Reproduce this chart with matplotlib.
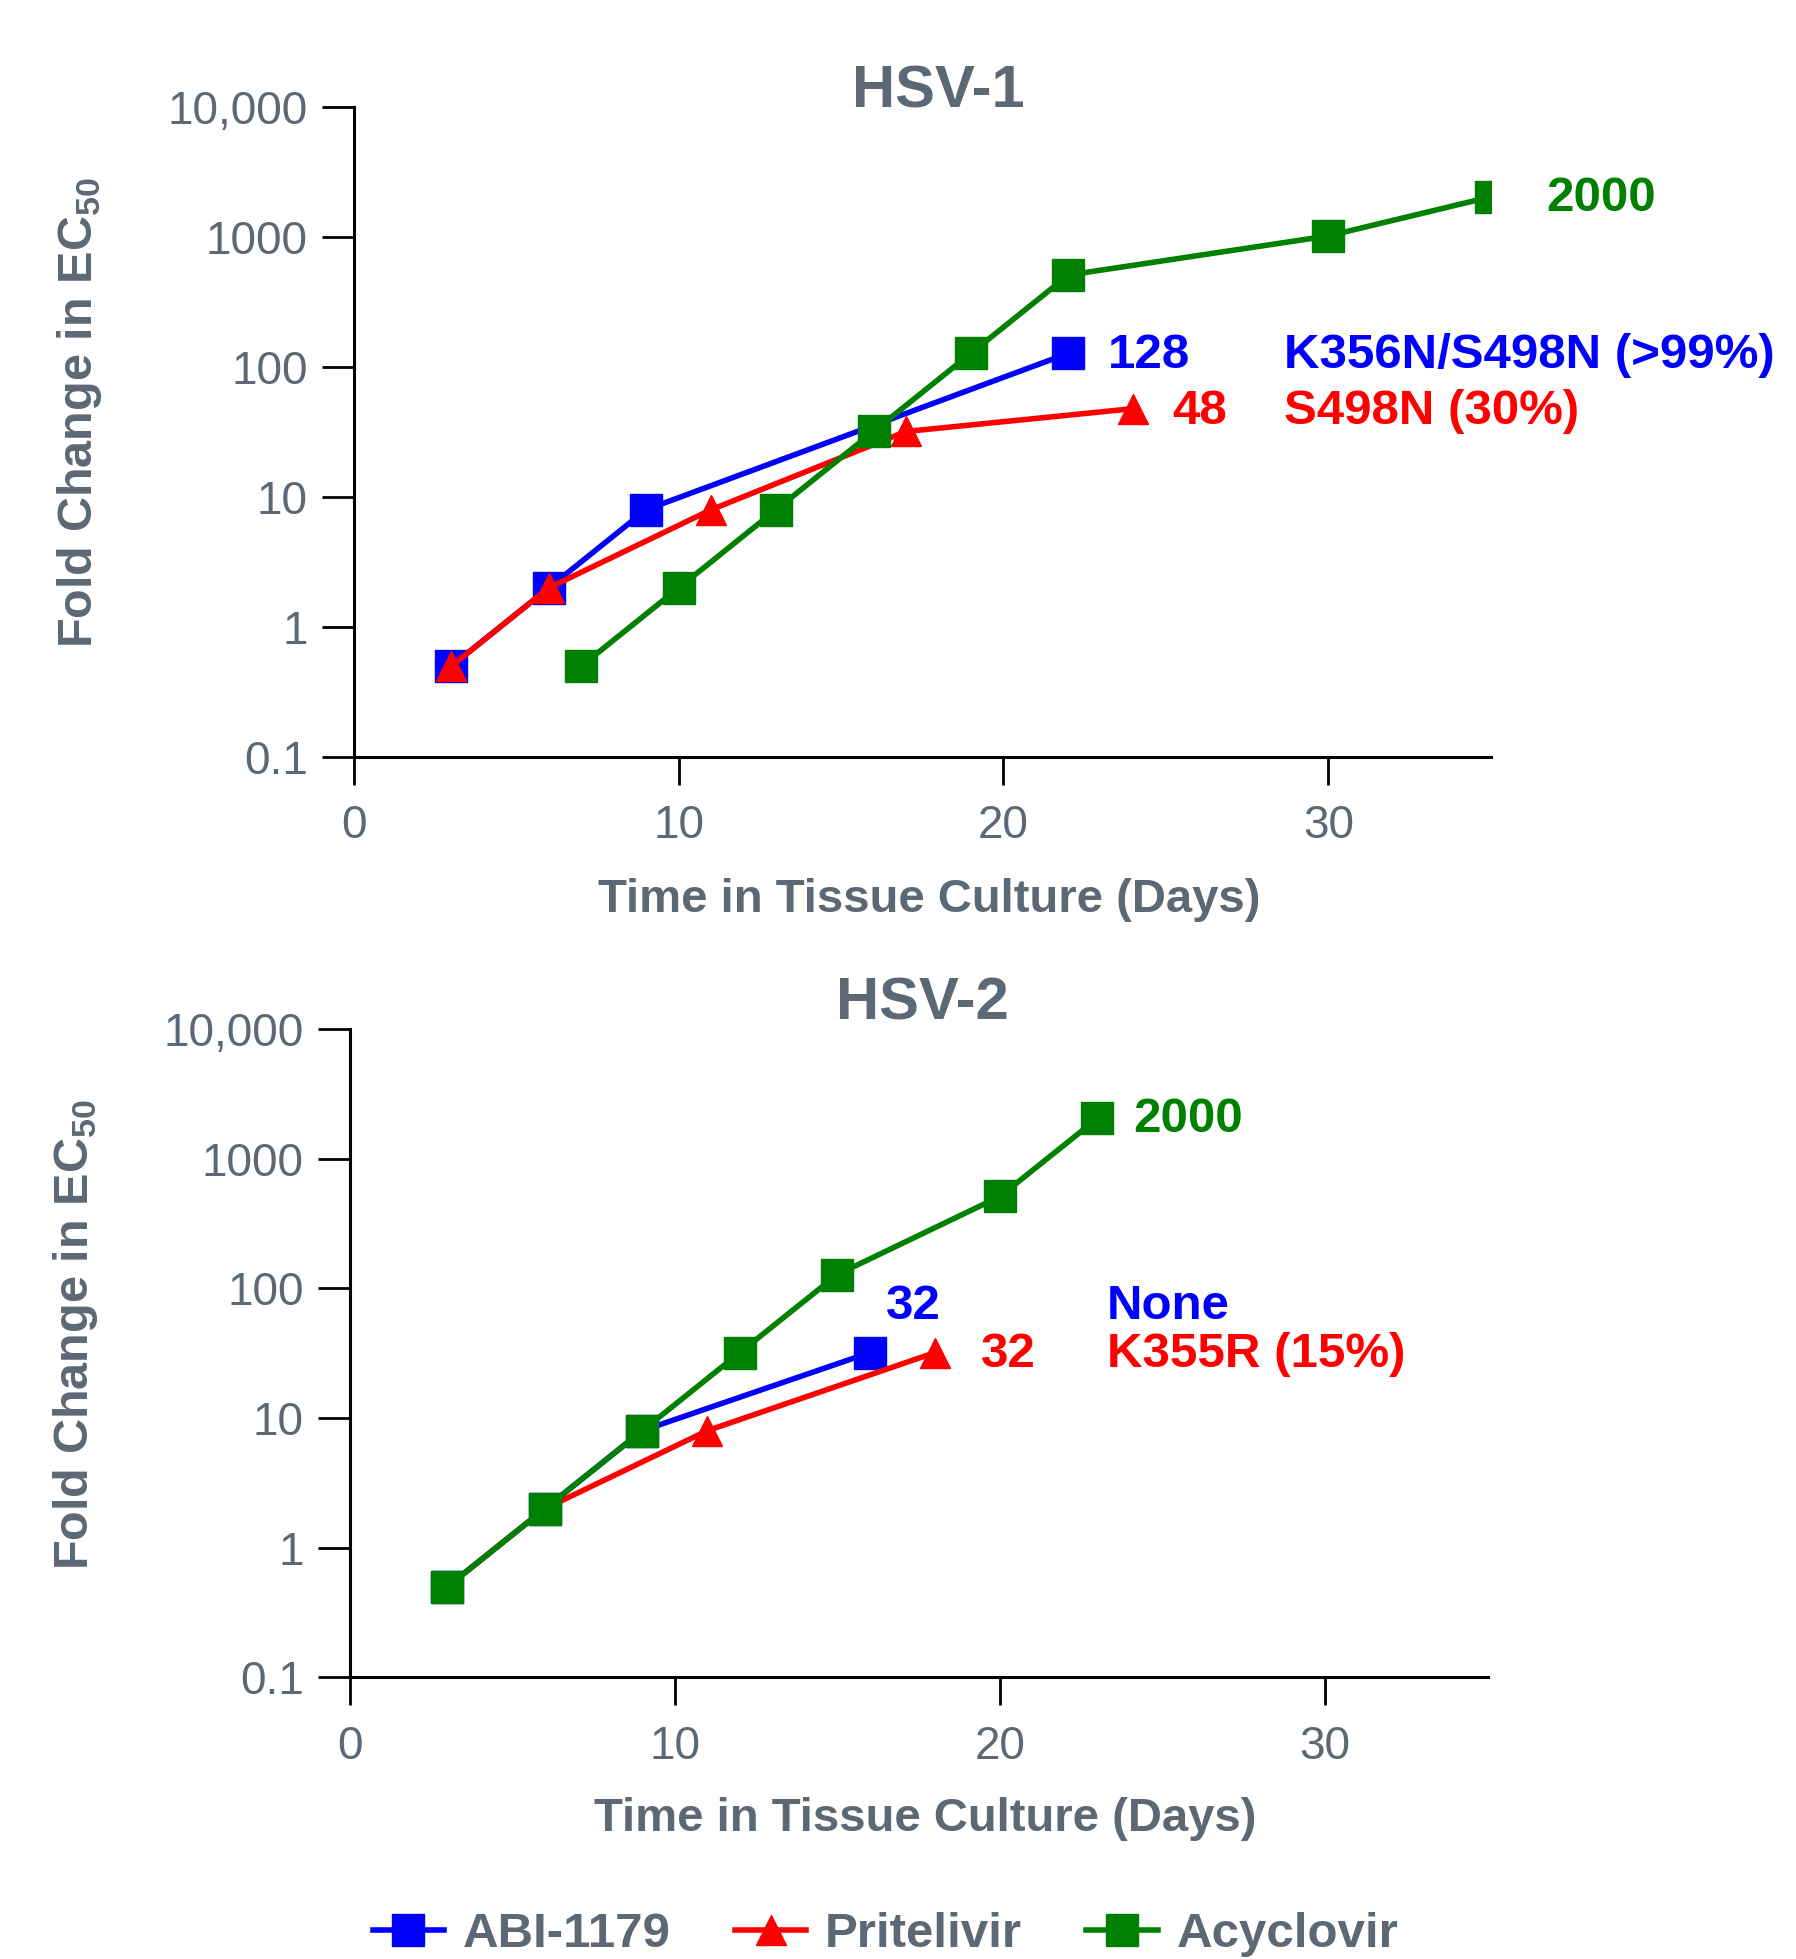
import matplotlib
matplotlib.use("Agg")
import matplotlib.pyplot as plt
from matplotlib.ticker import FixedLocator, NullLocator

# data
hsv1_abi_days = [3, 6, 9, 22]
hsv1_abi_fold = [0.5, 2, 8, 128]
hsv1_pri_days = [3, 6, 11, 17, 24]
hsv1_pri_fold = [0.5, 2, 8, 32, 48]
hsv1_acv_days = [7, 10, 13, 16, 19, 22, 30, 35]
hsv1_acv_fold = [0.5, 2, 8, 32, 128, 512, 1024, 2048]

hsv2_abi_days = [3, 6, 9, 16]
hsv2_abi_fold = [0.5, 2, 8, 32]
hsv2_pri_days = [3, 6, 11, 18]
hsv2_pri_fold = [0.5, 2, 8, 32]
hsv2_acv_days = [3, 6, 9, 12, 15, 20, 23]
hsv2_acv_fold = [0.5, 2, 8, 32, 128, 512, 2048]

y_ticks = [0.1, 1, 10, 100, 1000, 10000]
y_labels = ["0.1", "1", "10", "100", "1000", "10,000"]
x_ticks = [0, 10, 20, 30]

# (x, y, text, colour) annotations
hsv1_notes = [(36.7, 2000, "2000", "green"),
              (23.2, 122, "128", "blue"),
              (28.65, 122, "K356N/S498N (>99%)", "blue"),
              (25.2, 46, "48", "red"),
              (28.65, 46, "S498N (30%)", "red")]
hsv2_notes = [(24.1, 2000, "2000", "green"),
              (16.5, 72, "32", "blue"),
              (23.3, 72, "None", "blue"),
              (19.4, 31, "32", "red"),
              (23.3, 31, "K355R (15%)", "red")]

GREY = "#5c6873"
BLUE, RED, GREEN = "#0000ff", "#ff0000", "#008000"
col = {"blue": BLUE, "red": RED, "green": GREEN}

plt.rcParams['font.family'] = ['Liberation Sans', 'DejaVu Sans']
plt.rcParams['mathtext.fontset'] = 'custom'
plt.rcParams['mathtext.bf'] = 'Liberation Sans:bold'
plt.rcParams['mathtext.rm'] = 'Liberation Sans'

fig = plt.figure(figsize=(17.96, 19.59), dpi=100)
ax1 = fig.add_axes([0.197, 0.6136, 0.633, 0.3316])
ax2 = fig.add_axes([0.1947, 0.1437, 0.6336, 0.331])


def draw_panel(ax, series, notes, title, tx, ty, ylab_y, xlab_y):
    handles = []
    for days, fold, c, m, ms, lab in series:
        h, = ax.plot(days, fold, color=c, marker=m, markersize=ms, lw=4,
                     label=lab, clip_on=True)
        handles.append(h)
    ax.set_yscale("log")
    ax.set_xlim(0, 35)
    ax.set_ylim(0.1, 10000)
    ax.yaxis.set_major_locator(FixedLocator(y_ticks))
    ax.yaxis.set_minor_locator(NullLocator())
    ax.set_yticklabels(y_labels)
    ax.set_xticks(x_ticks)
    for s in ["top", "right"]:
        ax.spines[s].set_visible(False)
    for s in ["left", "bottom"]:
        ax.spines[s].set_linewidth(2.2)
    ax.tick_params(axis="y", length=23, width=2, pad=10, labelsize=33, labelcolor=GREY)
    ax.tick_params(axis="x", length=20, width=2, pad=14, labelsize=33, labelcolor=GREY)
    ax.set_xlabel("Time in Tissue Culture (Days)", fontsize=34, fontweight="bold",
                  color=GREY, va="center")
    ax.xaxis.set_label_coords(0.506, xlab_y)
    ax.set_ylabel("Fold Change in EC$_{\\mathbf{50}}$", fontsize=35, fontweight="bold",
                  color=GREY, va="center")
    ax.yaxis.set_label_coords(-0.241, ylab_y)
    ax.text(tx, ty, title, transform=ax.transAxes, ha="center", va="baseline",
            fontsize=43, fontweight="bold", color=GREY)
    for x, y, s, c in notes:
        ax.text(x, y, s, color=col[c], fontsize=35.5, fontweight="bold",
                ha="left", va="center", clip_on=False)
    return handles


h = draw_panel(ax1, [(hsv1_abi_days, hsv1_abi_fold, BLUE, "s", 23, "ABI-1179"),
                     (hsv1_pri_days, hsv1_pri_fold, RED, "^", 22, "Pritelivir"),
                     (hsv1_acv_days, hsv1_acv_fold, GREEN, "s", 23, "Acyclovir")],
               hsv1_notes, "HSV-1", 0.514, 1.0, 0.531, -0.22)
draw_panel(ax2, [(hsv2_abi_days, hsv2_abi_fold, BLUE, "s", 23, "ABI-1179"),
                 (hsv2_pri_days, hsv2_pri_fold, RED, "^", 22, "Pritelivir"),
                 (hsv2_acv_days, hsv2_acv_fold, GREEN, "s", 23, "Acyclovir")],
           hsv2_notes, "HSV-2", 0.503, 1.015, 0.529, -0.218)

leg = fig.legend(handles=h, loc="center", bbox_to_anchor=(0.493, 0.0125), ncol=3,
                 frameon=False, handlelength=1.45, handletextpad=0.38, columnspacing=1.3,
                 prop={"weight": "bold", "size": 35.5})
for t in leg.get_texts():
    t.set_color(GREY)

fig.savefig("out.png", dpi=100)
